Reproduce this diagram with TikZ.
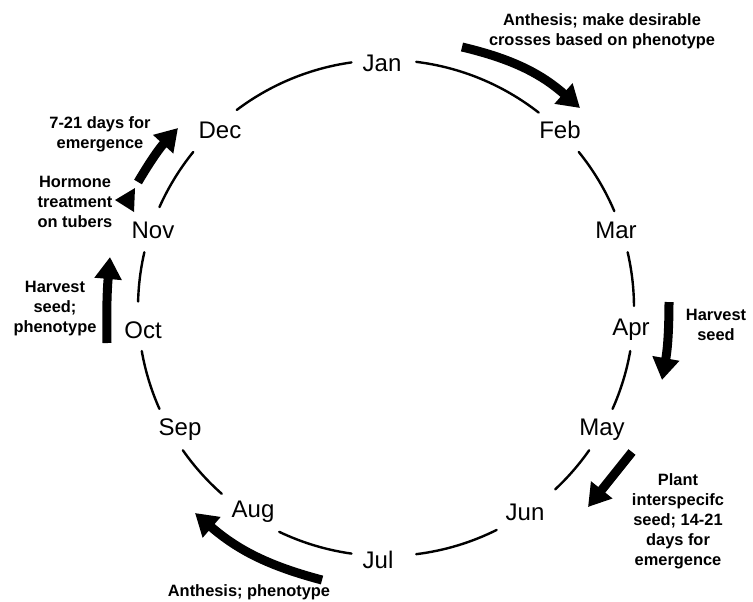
\documentclass[tikz,border=0pt]{standalone}
\usepackage{fontspec}
\setmainfont{Liberation Sans}
\usepackage{tikz}
\usetikzlibrary{arrows.meta}

\begin{document}
\begin{tikzpicture}[
  x=0.5pt, y=-0.5pt,
  month/.style={font=\fontsize{12}{14}\selectfont, inner sep=1pt},
  note/.style={font=\bfseries\fontsize{8.2}{10}\selectfont, align=center, inner sep=1pt},
  cyc/.style={line width=1.2pt, line cap=round},
  bigarrow/.style={-{Triangle[length=11pt,width=13pt]}, line width=4.5pt},
]
\useasboundingbox (0,0) rectangle (753,601);

% Meses
\node[month] (jan) at (382,63) {Jan};
\node[month] (feb) at (560,130) {Feb};
\node[month] (mar) at (616,230) {Mar};
\node[month] (apr) at (631,330) {Apr};
\node[month] (may) at (602,430) {May};
\node[month] (jun) at (525,512) {Jun};
\node[month] (jul) at (378,560) {Jul};
\node[month] (aug) at (253,512) {Aug};
\node[month] (sep) at (180,430) {Sep};
\node[month] (oct) at (143,330) {Oct};
\node[month] (nov) at (153,230) {Nov};
\node[month] (dec) at (220,130) {Dec};

% Circulo
\coordinate (c) at (386,308);
\foreach \a/\b in {-83/-52, -39/-23, -13/-0.5, 10/24, 35/47, 63.5/83,
                   98/115.5, 131.5/145, 156/170, 181.5/193, 204/219, 233/262}
  \draw[cyc] (c) ++(\a:248) arc[start angle=\a, end angle=\b, radius=248];

% Notas
\node[note] (crossnote) at (602,31) {Anthesis; make desirable\\crosses based on phenotype};
\node[note] (emergnote) at (100,134) {7-21 days for\\emergence};
\node[note] (hormnote) at (75,202) {Hormone\\treatment\\on tubers};
\node[note] (harvleft) at (55,309) {Harvest\\seed;\\phenotype};
\node[note] (harvright) at (716,325) {Harvest\\seed};
\node[note] (plantnote) at (678,521) {Plant\\interspecifc\\seed; 14-21\\days for\\emergence};
\node[note] (anthnote) at (249,592) {Anthesis; phenotype};

% Flechas
\coordinate (janS) at (462,47);  \coordinate (febE) at (580,108);
\coordinate (aprS) at (669,302); \coordinate (aprE) at (662,380);
\coordinate (mayS) at (632,452); \coordinate (junE) at (588,507);
\coordinate (julS) at (322,580); \coordinate (augE) at (195,513);
\coordinate (octS) at (107,343); \coordinate (novE) at (110,257);
\coordinate (novS) at (138,182); \coordinate (decE) at (178,128);

\draw[bigarrow] (janS) to[bend left=14] (febE);
\draw[bigarrow] (aprS) to[bend left=5] (aprE);
\draw[bigarrow] (mayS) -- (junE);
\draw[bigarrow] (julS) to[bend left=13] (augE);
\draw[bigarrow] (octS) to[bend left=3] (novE);
\draw[bigarrow] (novS) to[bend left=6] (decE);

% Punta suelta
\fill (115,200) -- (135,188) -- (134,212) -- cycle;

\end{tikzpicture}
\end{document}
